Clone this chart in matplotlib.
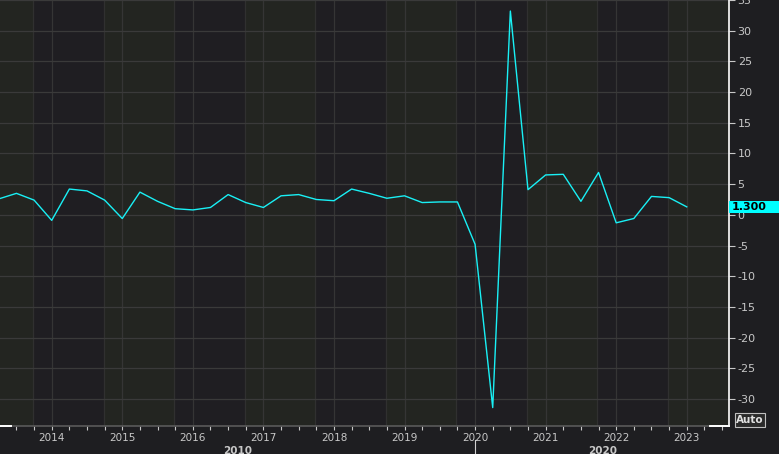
import matplotlib
matplotlib.use("Agg")
import matplotlib.pyplot as plt
import matplotlib.transforms as mtransforms
from matplotlib.patches import Rectangle

# US real GDP, q/q annualised %, first quarter shown is 2013Q2
start_year, start_q = 2013, 2
gdp_qoq = [
    2.6, 3.5, 2.4,
    -0.9, 4.2, 3.9, 2.4,
    -0.6, 3.7, 2.2, 1.0,
    0.8, 1.2, 3.3, 2.0,
    1.2, 3.1, 3.3, 2.5,
    2.3, 4.2, 3.5, 2.7,
    3.1, 2.0, 2.1, 2.1,
    -4.8, -31.4, 33.2, 4.1,
    6.5, 6.6, 2.2, 6.9,
    -1.3, -0.6, 3.0, 2.8,
    1.3,
]
year_labels = [2014, 2015, 2016, 2017, 2018, 2019, 2020, 2021, 2022, 2023]
decade_labels = ["2010", "2020"]
last_value = gdp_qoq[-1]

BG = "#1e1e21"
BAND_A = "#232521"
BAND_B = "#1f1e22"
GRID = "#3a3a3a"
TXT = "#c8c8c8"
LINE = "#19f0f5"

plt.rcParams["font.family"] = ["DejaVu Sans"]
plt.rcParams["axes.unicode_minus"] = False

x = [start_year + (start_q - 1 + i) / 4 for i in range(len(gdp_qoq))]

fig = plt.figure(figsize=(7.79, 4.54), dpi=100, facecolor=BG)
ax = fig.add_axes([0.0, 0.0617, 0.9362, 0.9383])
ax.set_facecolor(BAND_A)

x0, x1 = 2013.267, 2023.603
ax.set_xlim(x0, x1)
ax.set_ylim(-34.4, 34.4)

# alternating yearly bands, edges a bit before each year tick
edges = [x0] + [y - 0.265 for y in year_labels] + [x1]
for i in range(len(edges) - 1):
    ax.axvspan(edges[i], edges[i + 1], color=BAND_A if i % 2 == 0 else BAND_B,
               lw=0, zorder=0)
for e in edges[1:-1]:
    ax.axvline(e, color="#303030", lw=0.9, zorder=1)
for y in year_labels:
    ax.axvline(y, color="#353535", lw=0.9, zorder=1)
for v in range(-30, 36, 5):
    ax.axhline(v, color=GRID, lw=0.9, zorder=1)

ax.plot(x, gdp_qoq, color=LINE, lw=1.0, zorder=3)

# y axis on the right
ax.yaxis.tick_right()
ax.set_yticks(range(-30, 36, 5))
ax.tick_params(axis="y", colors=TXT, labelsize=8, length=4, width=0.8,
               direction="out", pad=2)
for t in ax.yaxis.get_ticklines():
    t.set_color("white")

# x axis: year labels, quarterly ticks
ax.set_xticks(year_labels)
ax.set_xticklabels([str(y) for y in year_labels])
qticks = [y / 4 for y in range(int(x0 * 4) + 1, int(x1 * 4) + 1)]
ax.set_xticks(qticks, minor=True)
ax.tick_params(axis="x", which="both", colors=TXT, labelsize=7.5,
               length=3, width=0.8, direction="out", pad=2)
for t in ax.xaxis.get_ticklines(minor=True) + ax.xaxis.get_ticklines():
    t.set_color("#d0d0d0")

for side in ["left", "top"]:
    ax.spines[side].set_visible(False)
ax.spines["right"].set_color("white")
ax.spines["right"].set_linewidth(1.2)
ax.spines["bottom"].set_color("#5a5a5a")
ax.spines["bottom"].set_linewidth(1.2)
ax.plot([0, 0.015], [0, 0], transform=ax.transAxes, color="white", lw=1.4,
        clip_on=False, zorder=5)
ax.plot([0.9735, 1.0], [0, 0], transform=ax.transAxes, color="white", lw=1.4,
        clip_on=False, zorder=5)

# decade row
trans = mtransforms.blended_transform_factory(ax.transData, ax.transAxes)
ax.text((x0 + 2020) / 2, -0.058, decade_labels[0], transform=trans, color=TXT,
        fontsize=7.5, fontweight="bold", ha="center", va="center")
ax.text((2020 + x1) / 2, -0.058, decade_labels[1], transform=trans, color=TXT,
        fontsize=7.5, fontweight="bold", ha="center", va="center")
ax.plot([2020, 2020], [-0.033, -0.07], transform=trans, color="#d0d0d0",
        lw=0.8, clip_on=False)

# last value tag
ytrans = mtransforms.blended_transform_factory(ax.transAxes, ax.transData)
ax.add_patch(Rectangle((1.0, last_value - 1.0), 0.08, 2.0, transform=ytrans,
                       facecolor="#00ffff", edgecolor="none", clip_on=False,
                       zorder=6))
ax.text(1.003, last_value, f"{last_value:.3f}", transform=ytrans, color="black",
        fontsize=8, fontweight="bold", ha="left", va="center", zorder=7)

# "Auto" button
fig.text(750 / 779, (454 - 420) / 454, "Auto", color="#e0e0e0", fontsize=7.5,
         fontweight="bold", ha="center", va="center",
         bbox=dict(boxstyle="square,pad=0.15", facecolor="#2a2a2a",
                   edgecolor="#c0c0c0", lw=0.8))

fig.savefig("out.png", dpi=100, facecolor=BG)
